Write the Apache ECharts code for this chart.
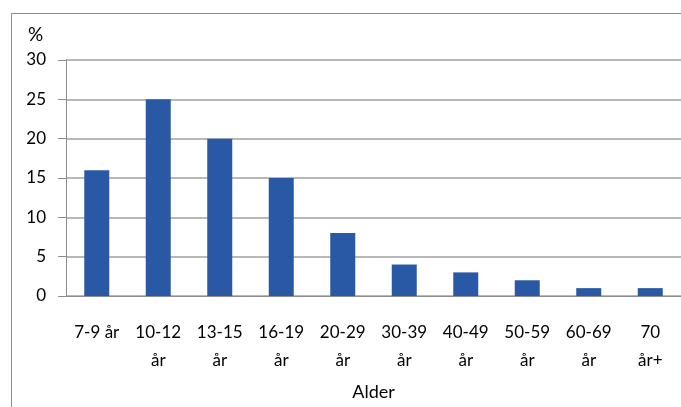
<!DOCTYPE html>
<html>
<head>
<meta charset="utf-8">
<script src="https://cdn.jsdelivr.net/npm/echarts@6/dist/echarts.min.js"></script>
<style>
html,body{margin:0;padding:0;background:#fff;}
#c{width:681px;height:407px;}
</style>
</head>
<body>
<div id="c"></div>
<script>
const categories = ['7-9 år','10-12 år','13-15 år','16-19 år','20-29 år','30-39 år','40-49 år','50-59 år','60-69 år','70 år+'];
const values = [16, 25, 20, 15, 8, 4, 3, 2, 1, 1];
const yTicks = [0, 5, 10, 15, 20, 25, 30];
const yUnit = '%';
const xTitle = 'Alder';

const FONT = 'Lato';
const chart = echarts.init(document.getElementById('c'));
chart.setOption({
  animation: false,
  backgroundColor: '#fff',
  textStyle: { fontFamily: FONT },
  graphic: [
    { type: 'polyline', shape: { points: [[11.5, 407], [11.5, 13.5], [681, 13.5]] },
      style: { stroke: '#8c8c8c', lineWidth: 1, fill: null } },
    { type: 'text', left: 28, top: 25, style: { text: yUnit, font: '19px ' + FONT, fill: '#000' } }
  ],
  grid: { left: 66, top: 60, width: 626, height: 236, containLabel: false },
  xAxis: {
    type: 'category',
    data: categories,
    name: xTitle,
    nameLocation: 'middle',
    nameGap: 87,
    nameTextStyle: { fontSize: 18, color: '#000', fontFamily: FONT },
    axisLine: { lineStyle: { color: '#8c8c8c', width: 1 } },
    axisTick: { length: 8, lineStyle: { color: '#8c8c8c' } },
    axisLabel: {
      interval: 0, margin: 23, fontSize: 17, color: '#000', lineHeight: 28, fontFamily: FONT,
      formatter: (v, i) => i === 0 ? v : v.replace(' ', '\n')
    }
  },
  yAxis: {
    type: 'value',
    min: yTicks[0], max: yTicks[yTicks.length - 1], interval: yTicks[1] - yTicks[0],
    axisLine: { show: true, lineStyle: { color: '#8c8c8c' } },
    axisTick: { show: true, length: 8, lineStyle: { color: '#8c8c8c' } },
    axisLabel: { margin: 20, fontSize: 17, color: '#000', fontFamily: FONT },
    splitLine: { lineStyle: { color: '#a0a0a0', width: 1.5 } }
  },
  series: [{
    type: 'bar',
    data: values,
    barWidth: 25,
    itemStyle: { color: '#2959A4' }
  }]
});
</script>
</body>
</html>
